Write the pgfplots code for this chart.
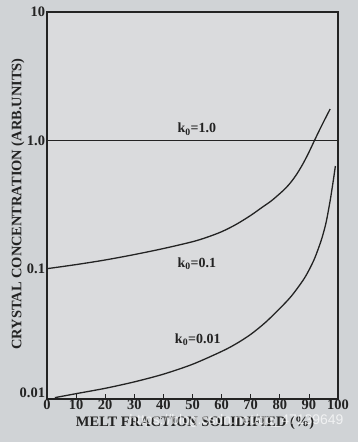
\documentclass[border=0pt]{standalone}
\usepackage{pgfplots}
\pgfplotsset{compat=1.18}
\usepackage{fontspec}
\setmainfont{Liberation Serif}
\setsansfont{Liberation Sans}
\definecolor{bgout}{RGB}{208,211,214}
\definecolor{bgin}{RGB}{218,219,221}
\definecolor{ink}{RGB}{35,35,35}
\begin{document}
\begin{tikzpicture}[x=1bp,y=1bp]
\fill[bgout] (0,0) rectangle (358,442);
\useasboundingbox (0,0) rectangle (358,442);
\begin{axis}[
  at={(47bp,43bp)}, anchor=south west,
  scale only axis, width=291bp, height=387bp,
  ymode=log, xmin=0, xmax=100, ymin=0.00965, ymax=10,
  axis background/.style={fill=bgin},
  axis line style={ink, line width=1.6bp},
  xtick={0,10,...,100}, xtick pos=bottom, tick align=inside,
  major tick length=5bp,
  xtick style={ink, line width=0.8bp},
  ytick={0.0107,0.1,1,10}, yticklabels={0.01,0.1,1.0,10},
  ytick style={draw=none}, yminorticks=false,
  /pgf/number format/assume math mode=true,
  tick label style={font=\bfseries\fontsize{14.5}{15}\selectfont, text=ink},
  xticklabel style={yshift=2.5bp},
  yticklabel style={xshift=1.5bp},
  xlabel={MELT FRACTION SOLIDIFIED (\%)},
  ylabel={CRYSTAL CONCENTRATION (ARB.UNITS)},
  label style={font=\bfseries\fontsize{14.5}{15}\selectfont, text=ink},
  xlabel style={at={(axis description cs:0.509,-0.063)}, anchor=center},
  ylabel style={at={(axis description cs:-0.0997,0.504)}, anchor=center, rotate=0},
  clip=false,
]
\addplot[ink, line width=1.5bp] coordinates {(0,1) (100,1)};
\addplot[ink, line width=1.3bp, smooth] coordinates {
(0,0.1) (10,0.1076) (20,0.1169) (30,0.1288) (40,0.1435) (50,0.1622) (55,0.1758)
(60,0.1941) (65,0.2213) (70,0.2600) (74,0.3015) (77,0.3364) (80,0.3846) (82,0.4236) (84,0.4775)
(86,0.5534) (88,0.6592) (90,0.8072) (92,1.007) (94,1.250) (96,1.538) (97.3,1.754)};
\addplot[ink, line width=1.3bp, smooth] coordinates {
(2.7,0.00989) (10,0.01062) (20,0.01169) (30,0.01312) (40,0.01507) (50,0.01799)
(60,0.02265) (65,0.02600) (70,0.03076) (75,0.03802) (80,0.04898) (84,0.06124)
(88,0.08128) (90,0.09727) (92,0.1208) (94,0.1603) (95,0.1905) (96,0.2344)
(97.3,0.3388) (98,0.4266) (98.6,0.5248) (99.1,0.6310)};
\node[font=\bfseries\fontsize{14}{15}\selectfont, text=ink] at (axis cs:51.5,1.22) {k$_{\mathbf{0}}$=1.0};
\node[font=\bfseries\fontsize{14}{15}\selectfont, text=ink] at (axis cs:51.5,0.109) {k$_{\mathbf{0}}$=0.1};
\node[font=\bfseries\fontsize{14}{15}\selectfont, text=ink] at (axis cs:51.8,0.0279) {k$_{\mathbf{0}}$=0.01};
\end{axis}
\node[font=\sffamily\fontsize{14}{15}\selectfont, text=white, opacity=0.7, anchor=east] at (347,21) {https://blog.csdn.net/qq\_47139649};
\end{tikzpicture}
\end{document}
